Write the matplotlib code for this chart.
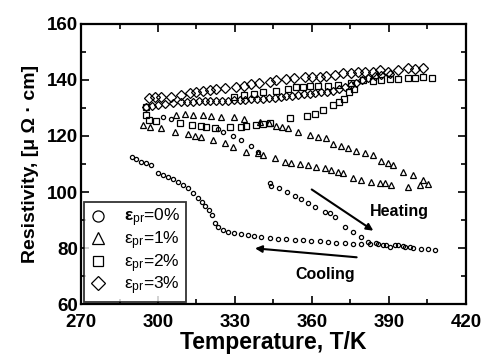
import matplotlib
matplotlib.use("Agg")
import matplotlib.pyplot as plt
from matplotlib.lines import Line2D

plt.rcParams['font.family'] = ['Liberation Sans', 'DejaVu Sans']
plt.rcParams['mathtext.fontset'] = 'custom'
plt.rcParams['mathtext.rm'] = 'Liberation Sans'
plt.rcParams['mathtext.it'] = 'Liberation Sans:italic'
plt.rcParams['mathtext.bf'] = 'Liberation Sans:bold'

# ---------------- data ----------------
# eps_pr = 0 % (circles)
t0_cool = [289.8, 291.5, 293.5, 295.4, 297.4, 300.0, 301.9, 303.9, 305.8, 307.8, 309.7,
           311.7, 313.6, 315.6, 317.1, 318.4, 319.7, 321.0, 322.1, 323.4, 325.3, 327.3,
           329.8, 332.4, 335.0, 337.6, 340.2, 343.5, 346.7, 350.0, 353.2, 356.5, 359.7,
           363.0, 366.2, 369.5, 372.7, 376.0, 379.2, 382.5, 385.7, 389.0, 392.2, 395.5, 398.0]
r0_cool = [112.4, 111.7, 110.8, 110.2, 109.6, 106.7, 106.1, 105.5, 104.5, 103.7, 102.5,
           101.3, 99.8, 97.7, 96.5, 95.0, 93.6, 91.8, 88.8, 87.4, 86.4, 85.8,
           85.2, 84.9, 84.5, 84.3, 83.8, 83.6, 83.3, 83.1, 82.9, 82.7, 82.6,
           82.5, 82.3, 81.9, 81.7, 81.4, 81.4, 81.3, 81.3, 81.2, 81.1, 80.7, 80.5]
t0_heat = [301.9, 304.9, 323.4, 325.3, 329.2, 332.4, 336.1, 338.9,
           343.5, 344.1, 347.0, 350.4, 353.2, 355.8, 358.4, 361.3, 364.9, 366.9, 368.8,
           373.0, 376.0, 379.2, 381.8, 385.1, 387.7, 390.3, 393.5, 396.1, 399.3, 402.6,
           405.2, 408.1]
r0_heat = [126.7, 126.0, 122.4, 121.5, 120.0, 118.6, 116.4, 114.4,
           103.1, 102.1, 101.3, 100.1, 98.6, 97.4, 96.0, 94.5, 93.0, 92.4, 91.2,
           87.6, 85.8, 84.0, 82.3, 81.7, 81.1, 80.5, 81.1, 80.2, 79.9, 79.5,
           79.5, 79.3]

# eps_pr = 1 % (triangles)
t1_a = [307.1, 310.4, 313.6, 317.5, 320.8, 324.4, 329.6, 333.5, 339.6, 343.1, 346.1,
        348.3, 350.6, 354.5, 359.1, 362.3, 365.6, 368.2, 371.4, 374.0, 377.3, 380.5,
        383.8, 387.0, 389.6, 391.5, 395.4, 399.3, 403.2, 405.2]
r1_a = [127.5, 127.9, 127.5, 127.5, 127.2, 126.9, 126.7, 126.0, 125.1, 124.8, 123.6,
        123.1, 122.7, 121.5, 120.4, 119.8, 119.2, 117.1, 116.4, 115.6, 114.8, 114.0,
        113.2, 111.2, 110.5, 109.6, 107.3, 106.1, 104.3, 102.7]
t1_b = [294.1, 296.7, 301.3, 306.5, 311.7, 314.3, 316.9, 321.4, 326.0, 329.2, 334.4,
        338.9, 340.9, 345.4, 349.3, 351.9, 355.2, 358.4, 361.7, 364.9, 367.5, 370.1,
        372.1, 376.0, 379.2, 383.1, 386.4, 388.3, 390.9, 397.4, 401.9]
r1_b = [123.9, 123.3, 122.7, 121.5, 120.7, 120.0, 119.8, 118.6, 117.4, 116.2, 114.4,
        113.8, 113.2, 112.0, 110.8, 110.5, 110.0, 109.6, 109.0, 108.5, 107.9, 107.3,
        106.7, 104.9, 104.3, 103.7, 103.1, 103.1, 102.5, 101.9, 102.5]

# eps_pr = 2 % (squares)
t2_heat = [295.2, 295.2, 296.3, 299.1, 308.4, 313.2, 316.9, 318.8, 322.3, 327.9, 332.4,
           334.1, 338.3, 340.9, 343.5, 351.3, 358.2, 361.0, 364.3, 368.2, 370.4, 372.5,
           374.3, 376.4]
r2_heat = [130.2, 127.5, 125.7, 125.5, 124.8, 124.0, 123.6, 123.3, 122.7, 123.3, 123.3,
           123.6, 124.0, 124.3, 124.5, 126.3, 127.1, 127.9, 129.3, 131.1, 132.3, 133.2,
           135.8, 136.7]
t2_cool = [329.8, 333.7, 337.6, 340.9, 346.1, 350.6, 353.9, 356.5, 359.1, 362.3, 366.2,
           370.1, 375.3, 379.9, 383.8, 387.0, 390.3, 393.5, 397.4, 400.0, 403.2, 406.7]
r2_cool = [134.0, 134.6, 135.0, 135.8, 136.2, 136.7, 137.4, 137.4, 137.9, 137.9, 137.9,
           138.2, 139.0, 140.0, 139.6, 139.8, 140.2, 140.2, 140.6, 140.8, 141.2, 140.6]

# eps_pr = 3 % (diamonds)
t3_a = [296.3, 298.7, 301.3, 305.2, 309.1, 312.3, 314.9, 317.5, 320.1, 322.7, 326.2,
        330.5, 333.7, 336.3, 339.2, 343.5, 346.1, 350.0, 353.0, 357.1, 360.0, 363.0,
        365.6, 368.8, 372.1, 375.3, 377.9, 380.5, 383.8, 386.4, 389.6, 393.5, 397.4,
        400.0, 403.2]
r3_a = [133.4, 133.8, 133.8, 134.0, 134.6, 135.5, 135.8, 136.2, 136.4, 136.7, 137.0,
        137.6, 137.9, 138.6, 139.0, 139.4, 139.8, 140.2, 140.6, 140.9, 140.9, 141.2,
        141.4, 141.8, 142.4, 142.6, 142.7, 143.0, 143.0, 143.4, 143.0, 143.6, 144.2,
        143.9, 144.2]
t3_b = [295.4, 297.6, 300.0, 302.6, 305.8, 309.1, 311.4, 313.6, 315.8, 318.2, 320.4,
        322.7, 324.9, 327.3, 329.6, 331.8, 334.0, 336.3, 338.7, 340.9, 343.1, 345.4,
        347.8, 350.0, 352.2, 354.5, 356.9, 359.1, 361.3, 363.6, 366.0, 368.2, 370.4,
        372.7, 375.1, 377.3, 379.5, 381.8, 384.4, 387.0, 390.3]
r3_b = [130.2, 130.7, 131.0, 131.3, 131.7, 132.0, 132.3, 132.3, 132.4, 132.4, 132.5,
        132.5, 132.6, 132.6, 132.7, 132.9, 133.0, 133.1, 133.2, 133.3, 133.5, 133.7,
        133.9, 134.2, 134.4, 134.6, 134.9, 135.1, 135.4, 135.6, 135.8, 136.2, 136.7,
        137.4, 138.2, 139.0, 140.0, 140.8, 141.4, 141.8, 142.1]

legend_labels = [r'$\mathbf{ε}_{\rm pr}$=0%', r'ε$_{\rm pr}$=1%',
                 r'ε$_{\rm pr}$=2%', r'ε$_{\rm pr}$=3%']
x_ticks = [270, 300, 330, 360, 390, 420]
y_ticks = [60, 80, 100, 120, 140, 160]

# ---------------- plot ----------------
fig = plt.figure(figsize=(4.91, 3.62), dpi=100)
ax = fig.add_axes([0.165, 0.160, 0.784, 0.774])

mk = dict(linestyle='none', markerfacecolor='none', markeredgecolor='black',
          markeredgewidth=0.9)
ax.plot(t3_a, r3_a, marker='D', markersize=5.4, **mk)
ax.plot(t3_b, r3_b, marker='D', markersize=4.4, **mk)
ax.plot(t2_heat, r2_heat, marker='s', markersize=3.8, **mk)
ax.plot(t2_cool, r2_cool, marker='s', markersize=3.8, **mk)
ax.plot(t1_a, r1_a, marker='^', markersize=4.4, **mk)
ax.plot(t1_b, r1_b, marker='^', markersize=4.4, **mk)
ax.plot(t0_cool, r0_cool, marker='o', markersize=3.0, **mk)
ax.plot(t0_heat, r0_heat, marker='o', markersize=3.0, **mk)

ax.set_xlim(270, 420)
ax.set_ylim(60, 160)
ax.set_xticks(x_ticks)
ax.set_yticks(y_ticks)
ax.set_xticks([285, 315, 345, 375, 405], minor=True)
ax.set_yticks([70, 90, 110, 130, 150], minor=True)
ax.tick_params(which='both', direction='in', top=True, right=True, width=1.2)
ax.tick_params(which='major', length=6, labelsize=13.5)
ax.tick_params(axis='x', which='major', pad=7)
ax.tick_params(axis='y', which='major', pad=2)
ax.tick_params(which='minor', length=3.5)
for lab in ax.get_xticklabels() + ax.get_yticklabels():
    lab.set_fontweight('bold')
for s in ax.spines.values():
    s.set_linewidth(1.6)

ax.set_xlabel('Temperature, T/K', fontsize=16.5, fontweight='bold', labelpad=0)
ax.set_ylabel('Resistivity, [μ Ω · cm]', fontsize=14, fontweight='bold', labelpad=6)

# arrows and annotations
ax.annotate('', xy=(383.9, 86.2), xytext=(359.9, 100.9),
            arrowprops=dict(arrowstyle='-|>', color='black', lw=1.5,
                            mutation_scale=10, shrinkA=0, shrinkB=0))
ax.annotate('', xy=(337.8, 79.9), xytext=(377.4, 76.7),
            arrowprops=dict(arrowstyle='-|>', color='black', lw=1.5,
                            mutation_scale=10, shrinkA=0, shrinkB=0))
ax.text(393.9, 92.9, 'Heating', fontsize=11.5, fontweight='bold',
        ha='center', va='center')
ax.text(365.0, 70.4, 'Cooling', fontsize=11.5, fontweight='bold',
        ha='center', va='center')

handles = [Line2D([], [], marker=m, markersize=s, **mk)
           for m, s in zip(['o', '^', 's', 'D'], [8, 8, 7.5, 7.5])]
leg = ax.legend(handles, legend_labels, loc='lower left',
                bbox_to_anchor=(0.008, 0.006), borderaxespad=0,
                fontsize=12.5, frameon=True, fancybox=False,
                handlelength=1.0, handletextpad=1.0, labelspacing=0.0,
                borderpad=0.3)
leg.get_frame().set_edgecolor('black')
leg.get_frame().set_linewidth(1.3)

fig.savefig('out.png', dpi=100)
